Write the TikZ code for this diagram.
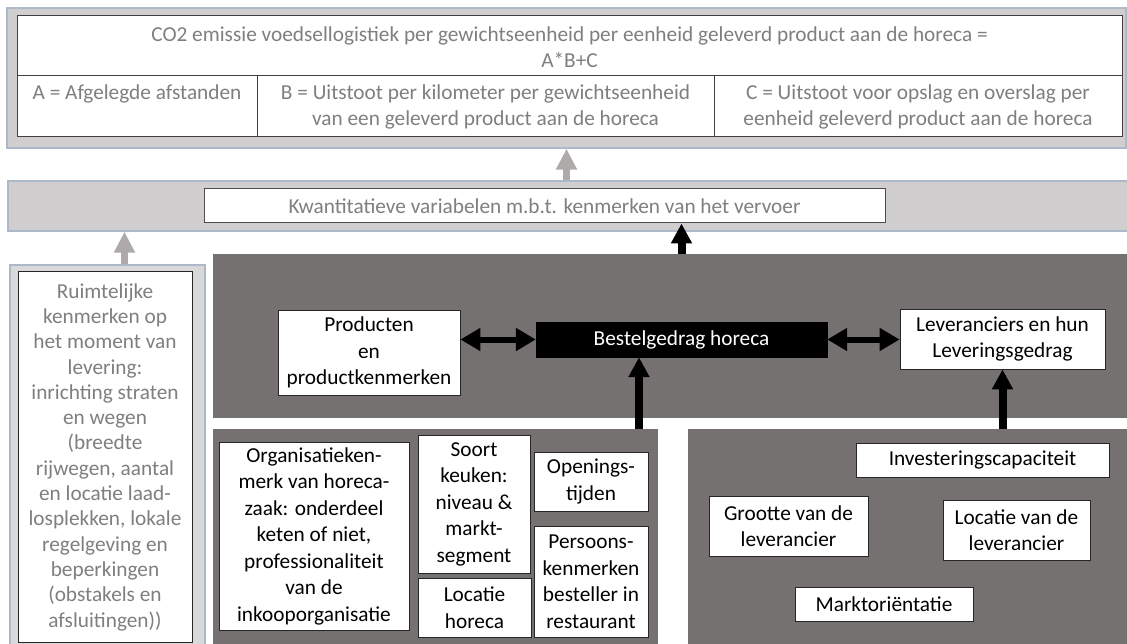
\documentclass[tikz,border=0pt]{standalone}
\usepackage{fontspec}
\setmainfont{Carlito}
\usetikzlibrary{arrows.meta}
\definecolor{lgrey}{HTML}{D0CECE}
\definecolor{fgrey}{HTML}{D9D9D9}
\definecolor{bgrey}{HTML}{ADB9CA}
\definecolor{dgrey}{HTML}{767171}
\definecolor{agrey}{HTML}{AEAAAA}
\definecolor{tgrey}{HTML}{7F7F7F}
\definecolor{lline}{HTML}{404040}
\begin{document}
\begin{tikzpicture}[x=1pt,y=-1pt,
  font=\fontsize{21.3}{26}\selectfont,
  frame/.style={fill=lgrey,draw=bgrey,line width=1.5pt,inner sep=0pt},
  panel/.style={fill=dgrey,draw=none,inner sep=0pt,outer sep=0pt},
  cell/.style={fill=white,draw=lline,line width=1pt,inner sep=0pt},
  gtext/.style={text=tgrey,align=center,inner sep=0pt},
  wbox/.style={fill=white,draw=black!85,line width=0.8pt,inner sep=0pt,align=center,text=black,
    font=\fontsize{21.3}{26.5}\selectfont},
  garrow/.style={draw=agrey,line width=7pt,-{Triangle[width=20pt,length=21pt]}},
  barrow/.style={draw=black,line width=8pt,-{Triangle[width=20pt,length=20pt]}},
  darrow/.style={draw=black,line width=6pt,{Triangle[width=22pt,length=20pt]}-{Triangle[width=22pt,length=20pt]}}
]
\useasboundingbox (0,0) rectangle (1127,644);
\fill[white] (0,0) rectangle (1127,644);

% ---------- top formula panel ----------
\node[frame,minimum width=1119pt,minimum height=140pt] (top) at (566.5,78) {};
\node[cell,minimum width=1105pt,minimum height=60pt] (row1) at (569.5,46) {};
\node[gtext] at ([yshift=-1pt]row1.center) {CO2 emissie voedsellogistiek per gewichtseenheid per eenheid geleverd product aan de horeca =\\A*B+C};
\node[cell,minimum width=240pt,minimum height=61pt] (cA) at (137,106.5) {};
\node[cell,minimum width=457pt,minimum height=61pt] (cB) at (485.5,106.5) {};
\node[cell,minimum width=408pt,minimum height=61pt] (cC) at (918,106.5) {};
\node[gtext,anchor=north] at ([yshift=-9pt]cA.north) {A = Afgelegde afstanden};
\node[gtext,anchor=north] at ([yshift=-9pt]cB.north) {B = Uitstoot per kilometer per gewichtseenheid\\van een geleverd product aan de horeca};
\node[gtext,anchor=north] at ([yshift=-9pt]cC.north) {C = Uitstoot voor opslag en overslag per\\eenheid geleverd product aan de horeca};

% ---------- band ----------
\node[frame,minimum width=1121pt,minimum height=50pt] (band) at (568.5,206) {};
\node[fill=white,draw=black!70,line width=1pt,minimum width=681pt,minimum height=34pt,gtext] (kw) at (544.5,206)
  {Kwantitatieve variabelen m.b.t. kenmerken van het vervoer};

% ---------- left spatial box ----------
\node[fill=fgrey,draw=bgrey,line width=1.5pt,minimum width=195pt,minimum height=390pt,inner sep=0pt] (lout) at (107.5,460) {};
\node[fill=white,draw=black!85,line width=1pt,minimum width=174pt,minimum height=370pt,gtext,
  font=\fontsize{21.3}{25.3}\selectfont] (lin) at (105,457)
  {Ruimtelijke\\kenmerken op\\het moment van\\levering:\\inrichting straten\\en wegen\\(breedte\\rijwegen, aantal\\en locatie laad-\\losplekken, lokale\\regelgeving en\\beperkingen\\(obstakels en\\afsluitingen))};

% ---------- dark panels ----------
\node[panel,minimum width=917pt,minimum height=164pt] (mid) at (671.5,336) {};
\node[panel,minimum width=445pt,minimum height=225pt] (lp) at (435.5,541.5) {};
\node[panel,minimum width=442pt,minimum height=225pt] (rp) at (909,541.5) {};

% ---------- middle row ----------
\node[wbox,minimum width=182pt,minimum height=85pt] (prod) at (369,352.5) {Producten\\en\\productkenmerken};
\node[fill=black,draw=black,inner sep=0pt,text=white,minimum width=291pt,minimum height=35pt] (bestel) at (681.5,339.5) {Bestelgedrag horeca};
\node[wbox,minimum width=205pt,minimum height=60pt] (lev) at (1002.5,339) {Leveranciers en hun\\Leveringsgedrag};

% ---------- lower left boxes ----------
\node[wbox,minimum width=190pt,minimum height=188pt] (org) at (314,536) {Organisatieken-\\merk van horeca-\\zaak: onderdeel\\keten of niet,\\professionaliteit\\van de\\inkooporganisatie};
\node[wbox,minimum width=112pt,minimum height=138pt] (soort) at (474,504) {Soort\\keuken:\\niveau \&\\markt-\\segment};
\node[wbox,minimum width=113pt,minimum height=59pt] (lochor) at (474.5,607.5) {Locatie\\horeca};
\node[wbox,minimum width=114pt,minimum height=59pt] (open) at (591,481.5) {Openings-\\tijden};
\node[wbox,minimum width=114pt,minimum height=111pt] (pers) at (591,581.5) {Persoons-\\kenmerken\\besteller in\\restaurant};

% ---------- lower right boxes ----------
\node[wbox,minimum width=253pt,minimum height=34pt] (inv) at (982.5,460) {Investeringscapaciteit};
\node[wbox,minimum width=159pt,minimum height=60pt] (groot) at (788.5,526) {Grootte van de\\leverancier};
\node[wbox,minimum width=147pt,minimum height=60pt] (locl) at (1016.5,530) {Locatie van de\\leverancier};
\node[wbox,minimum width=178pt,minimum height=34pt] (markt) at (884,604) {Marktoriëntatie};

% ---------- connectors ----------
\draw[garrow] (band.north -| top.south) -- (top.south);
\draw[garrow] ([xshift=17pt]lout.north) -- ([xshift=17pt]lout.north |- band.south);
\draw[barrow] (mid.north -| bestel.north) -- (kw.south -| bestel.north);
\draw[darrow] (prod.east |- bestel.west) -- (bestel.west);
\draw[darrow] (bestel.east) -- (lev.west |- bestel.east);
\draw[barrow] ([xshift=-42.5pt]bestel.south |- lp.north) -- ([xshift=-42.5pt]bestel.south);
\draw[barrow] (rp.north -| lev.south) -- (lev.south);
\end{tikzpicture}
\end{document}
